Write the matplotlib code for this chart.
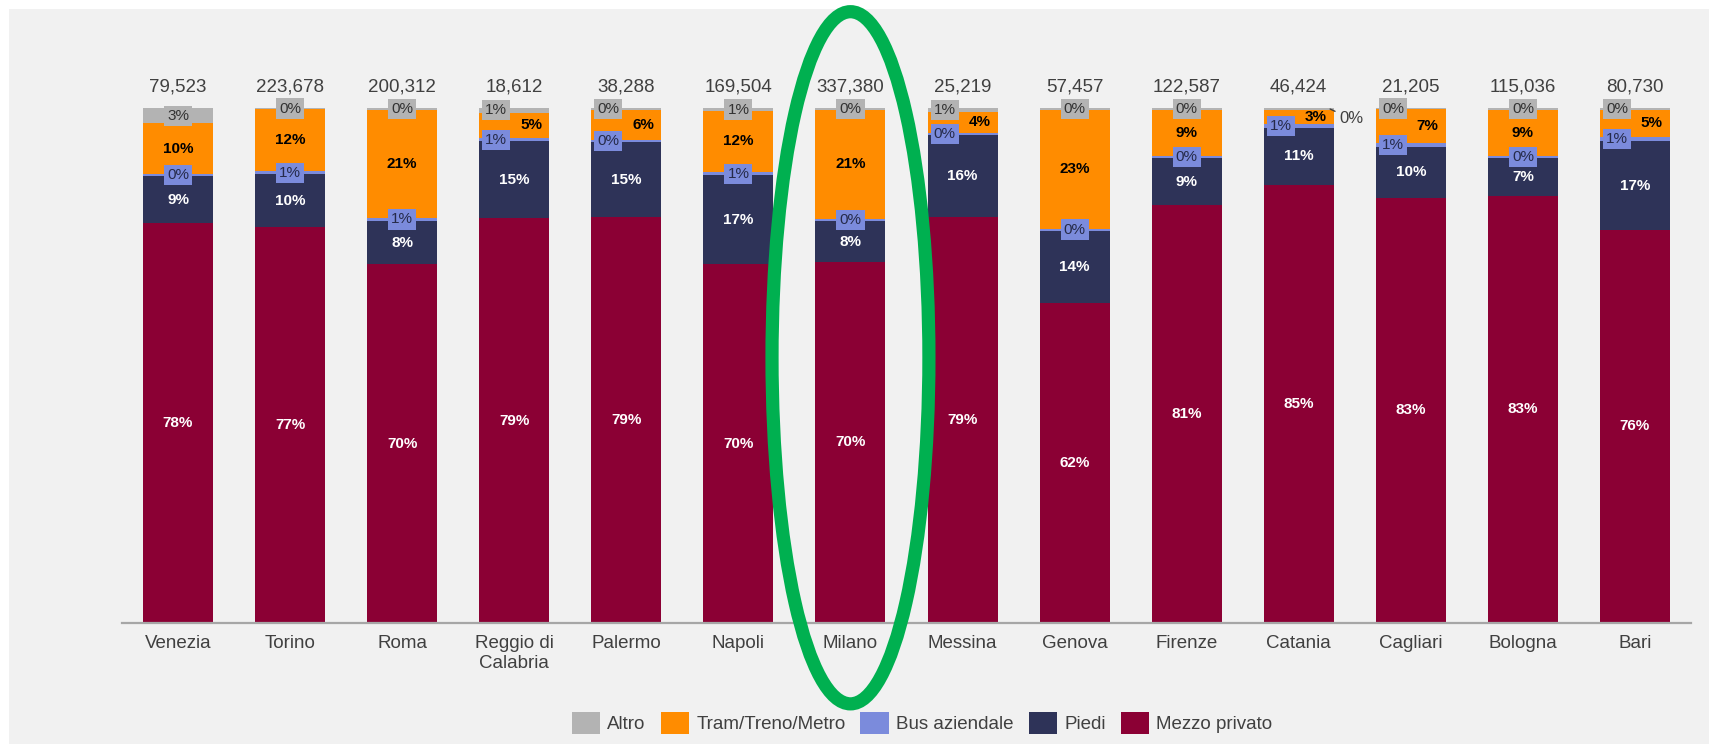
import matplotlib
matplotlib.use("Agg")
import matplotlib.pyplot as plt
from matplotlib.patches import Patch, Rectangle, Ellipse

plt.rcParams["font.family"] = ["Liberation Sans", "DejaVu Sans"]

cities = ["Venezia", "Torino", "Roma", "Reggio di\nCalabria", "Palermo", "Napoli",
          "Milano", "Messina", "Genova", "Firenze", "Catania", "Cagliari",
          "Bologna", "Bari"]
totals = [79523, 223678, 200312, 18612, 38288, 169504, 337380, 25219,
          57457, 122587, 46424, 21205, 115036, 80730]

# shares in %, bottom to top
mezzo_privato = [77.6, 76.9, 69.7, 78.6, 78.8, 69.7, 70.1, 78.8, 62.1, 81.2, 85.0, 82.6, 83.0, 76.4]
piedi = [9.2, 10.2, 8.3, 14.9, 14.6, 17.2, 7.9, 15.9, 14.1, 9.0, 11.2, 9.9, 7.2, 17.1]
bus_aziendale = [0.3, 0.6, 0.7, 0.7, 0.4, 0.7, 0.4, 0.4, 0.4, 0.4, 0.7, 0.7, 0.4, 0.8]
tram_treno_metro = [9.9, 12.1, 21.0, 4.9, 5.9, 11.8, 21.3, 4.2, 23.1, 9.1, 2.7, 6.6, 9.1, 5.4]
altro = [3.0, 0.2, 0.3, 0.9, 0.3, 0.6, 0.3, 0.7, 0.3, 0.3, 0.4, 0.2, 0.3, 0.3]

series_names = ["Mezzo privato", "Piedi", "Bus aziendale", "Tram/Treno/Metro", "Altro"]
series_values = [mezzo_privato, piedi, bus_aziendale, tram_treno_metro, altro]
colors = ["#8b0034", "#2e3358", "#7b8bdc", "#ff8c00", "#b3b3b3"]

highlight_city = "Milano"

fig = plt.figure(figsize=(17.09, 7.44), dpi=100, facecolor="white")
fig.patches.append(Rectangle((9 / 1709, 0), 1, 1 - 9 / 744, transform=fig.transFigure,
                             facecolor="#f1f1f1", edgecolor="none", zorder=-10))
ax = fig.add_axes([122 / 1709, 1 - 623 / 744, (1691 - 122) / 1709, (623 - 108) / 744])
ax.set_facecolor("none")

x = list(range(len(cities)))
width = 0.625
bottoms = [0.0] * len(cities)
for name, vals, col in zip(series_names, series_values, colors):
    ax.bar(x, vals, width, bottom=bottoms, color=col, label=name, edgecolor="none")
    bottoms = [b + v for b, v in zip(bottoms, vals)]

ax.set_xlim(-0.5, len(cities) - 0.5)
ax.set_ylim(0, 100)
for s in ["top", "right", "left"]:
    ax.spines[s].set_visible(False)
ax.spines["bottom"].set_color("#a6a6a6")
ax.spines["bottom"].set_linewidth(1.6)
ax.set_yticks([])
ax.set_xticks(x)
ax.set_xticklabels(cities, fontsize=13.5, color="#404040")
ax.tick_params(axis="x", length=0, pad=9)

lab_size = 11
for i in range(len(cities)):
    m, p, b, t, a = (s[i] for s in series_values)
    y0 = 0
    ax.text(i, y0 + m / 2, f"{m:.0f}%", ha="center", va="center", color="white",
            fontsize=lab_size, fontweight="bold")
    y0 += m
    ax.text(i, y0 + p / 2, f"{p:.0f}%", ha="center", va="center", color="white",
            fontsize=lab_size, fontweight="bold")
    y0 += p
    small = t < 8
    dx_left = -0.16 if small else 0.0
    ax.text(i + dx_left, y0 + b / 2, f"{b:.0f}%", ha="center", va="center", color="#262b4a",
            fontsize=lab_size,
            bbox=dict(boxstyle="square,pad=0.2", facecolor=colors[2], edgecolor="none"))
    y0 += b
    ax.text(i + (0.15 if small else 0.0), y0 + t / 2, f"{t:.0f}%", ha="center", va="center",
            color="black", fontsize=lab_size, fontweight="bold")
    y0 += t
    if cities[i] == "Catania":
        ax.annotate(f"{a:.0f}%", xy=(i + 0.28, y0 + a / 2), xytext=(i + 0.36, 97.9),
                    ha="left", va="center", color="#404040", fontsize=12,
                    arrowprops=dict(arrowstyle="-", color="#404040", lw=1,
                                    shrinkA=1, shrinkB=0))
    else:
        ax.text(i + dx_left, y0 + a / 2, f"{a:.0f}%", ha="center", va="center",
                color="#333333", fontsize=lab_size,
                bbox=dict(boxstyle="square,pad=0.2", facecolor=colors[4], edgecolor="none"))
    ax.annotate(f"{totals[i]:,}", xy=(i, 100), xytext=(0, 15), textcoords="offset points",
                ha="center", va="center", fontsize=13.5, color="#404040")

# green ellipse around the highlighted city
hi = cities.index(highlight_city)
ax.add_patch(Ellipse((hi, 51.5), 1.40, 134.4, fill=False, edgecolor="#00b050",
                     linewidth=9.5, clip_on=False, zorder=5))

handles = [Patch(facecolor=c, edgecolor="none") for c in colors][::-1]
fig.legend(handles, series_names[::-1], loc="center", bbox_to_anchor=(922 / 1709, 1 - 723 / 744),
           ncol=5, frameon=False, fontsize=13.5, handlelength=1.5, handleheight=1.5,
           handletextpad=0.4, columnspacing=0.8, labelcolor="#404040")

fig.savefig("out.png", dpi=100, facecolor=fig.get_facecolor())
